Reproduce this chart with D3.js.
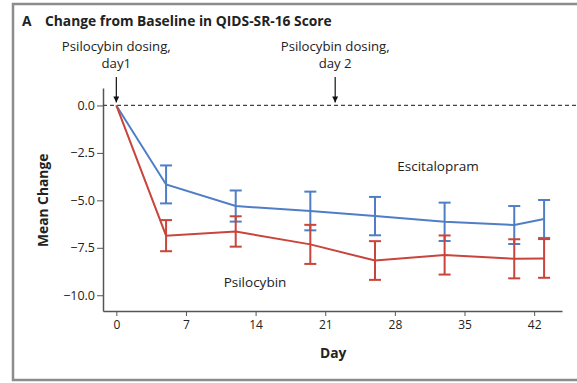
<!DOCTYPE html>
<html>
<head>
<meta charset="utf-8">
<script src="https://cdn.jsdelivr.net/npm/d3@7"></script>
<style>
  html, body { margin: 0; padding: 0; background: #fff; }
  svg { display: block; }
  text { font-family: "Open Sans", "Lato", sans-serif; fill: #222; }
</style>
</head>
<body>
<svg id="chart" width="577" height="383"></svg>
<script>
// Study visit days
const days = [0, 5, 12, 19.5, 26, 33, 40, 43];

// Escitalopram: mean change and error half-width
const escitalopramMean = [0, -4.16, -5.3, -5.56, -5.83, -6.13, -6.3, -5.98];
const escitalopramErr  = [0, 1.0, 0.82, 1.02, 1.01, 1.01, 1.0, 1.0];

// Psilocybin: mean change and error half-width
const psilocybinMean = [0, -6.86, -6.64, -7.32, -8.17, -7.88, -8.08, -8.06];
const psilocybinErr  = [0, 0.82, 0.8, 1.03, 1.02, 1.03, 1.03, 1.02];

const xTicks = [0, 7, 14, 21, 28, 35, 42];
const yTicks = [0, -2.5, -5, -7.5, -10];

const dosingNotes = [
  { day: 0, lines: ["Psilocybin dosing,", "day1"] },
  { day: 22, lines: ["Psilocybin dosing,", "day 2"] }
];

const seriesList = [
  { name: "Escitalopram", mean: escitalopramMean, err: escitalopramErr, color: "#4f7ec6" },
  { name: "Psilocybin", mean: psilocybinMean, err: psilocybinErr, color: "#c9443a" }
];

const svg = d3.select("#chart");

// Panel frame (left, top, bottom)
svg.append("path")
  .attr("d", "M577,4 H13 V380 H577")
  .attr("fill", "none")
  .attr("stroke", "#8c8c8c")
  .attr("stroke-width", 2.5);

// Panel title
const title = svg.append("text").attr("y", 26).attr("font-size", 13.8).attr("font-weight", 700);
title.append("tspan").attr("x", 22).text("A");
title.append("tspan").attr("x", 45).text("Change from Baseline in QIDS-SR-16 Score");

const x = d3.scaleLinear().domain([-1.34, 44.8]).range([103, 562]);
const y = d3.scaleLinear().domain([0.92, -10.83]).range([88, 311]);

// Axes
const xAxis = svg.append("g")
  .attr("transform", `translate(0,${y.range()[1]})`)
  .call(d3.axisBottom(x).tickValues(xTicks).tickSize(5).tickPadding(4).tickSizeOuter(0).tickFormat(d3.format("d")));
xAxis.selectAll("line").attr("stroke", "#555");
xAxis.select(".domain").attr("stroke", "#555").attr("stroke-width", 1.5);
xAxis.selectAll("text").attr("font-size", 12).attr("fill", "#333")
  .style("font-family", "'Open Sans', sans-serif");

const yAxis = svg.append("g")
  .attr("transform", `translate(${x.range()[0]},0)`)
  .call(d3.axisLeft(y).tickValues(yTicks).tickSize(6).tickSizeOuter(0).tickFormat(d => d3.format(".1f")(d).replace("-", "\u2212")));
yAxis.select(".domain").attr("stroke", "#555").attr("stroke-width", 1.5);
yAxis.selectAll("line").attr("stroke", "#555");
yAxis.selectAll("text").attr("font-size", 12.5).attr("x", -8).attr("fill", "#333")
  .style("font-family", "'Open Sans', sans-serif");

// Axis titles
svg.append("text")
  .attr("transform", `translate(48,${y(-5)}) rotate(-90)`)
  .attr("text-anchor", "middle")
  .attr("font-size", 13.8).attr("font-weight", 700)
  .text("Mean Change");
svg.append("text")
  .attr("x", x(21.8)).attr("y", 358)
  .attr("text-anchor", "middle")
  .attr("font-size", 13.8).attr("font-weight", 700)
  .text("Day");

// Baseline reference line
svg.append("line")
  .attr("x1", x.range()[0]).attr("x2", 577)
  .attr("y1", y(0)).attr("y2", y(0))
  .attr("stroke", "#444").attr("stroke-width", 1.2)
  .attr("stroke-dasharray", "4,3");

// Dosing annotations with arrows
svg.append("defs").append("marker")
  .attr("id", "arrowhead")
  .attr("viewBox", "0 0 10 10").attr("refX", 10).attr("refY", 5)
  .attr("markerWidth", 6).attr("markerHeight", 6)
  .attr("markerUnits", "userSpaceOnUse")
  .attr("orient", "auto")
  .append("path").attr("d", "M0,0 L10,5 L0,10 Z").attr("fill", "#111");

dosingNotes.forEach(note => {
  const cx = x(note.day);
  note.lines.forEach((s, i) => svg.append("text")
    .attr("text-anchor", "middle").attr("font-size", 13.2)
    .attr("x", cx).attr("y", 51 + i * 17).text(s));
  svg.append("line")
    .attr("x1", cx).attr("x2", cx)
    .attr("y1", 77).attr("y2", y(0) - 3)
    .attr("stroke", "#111").attr("stroke-width", 1.2)
    .attr("marker-end", "url(#arrowhead)");
});

// Series lines with error bars
const line = d3.line().x(d => x(d.day)).y(d => y(d.mean));
const capHalf = 6;

seriesList.forEach(s => {
  const pts = days.map((d, i) => ({ day: d, mean: s.mean[i], err: s.err[i] }));
  const g = svg.append("g");
  g.append("path").datum(pts)
    .attr("d", line)
    .attr("fill", "none")
    .attr("stroke", s.color)
    .attr("stroke-width", 2);
  const bars = pts.filter(p => p.err > 0);
  const eb = g.selectAll("g.eb").data(bars).join("g").attr("class", "eb")
    .attr("stroke", s.color).attr("stroke-width", 2);
  eb.append("line")
    .attr("x1", d => x(d.day)).attr("x2", d => x(d.day))
    .attr("y1", d => y(d.mean + d.err)).attr("y2", d => y(d.mean - d.err));
  eb.append("line")
    .attr("x1", d => x(d.day) - capHalf).attr("x2", d => x(d.day) + capHalf)
    .attr("y1", d => y(d.mean + d.err)).attr("y2", d => y(d.mean + d.err));
  eb.append("line")
    .attr("x1", d => x(d.day) - capHalf).attr("x2", d => x(d.day) + capHalf)
    .attr("y1", d => y(d.mean - d.err)).attr("y2", d => y(d.mean - d.err));
});

// Series labels
svg.append("text").attr("x", 438).attr("y", 171).attr("text-anchor", "middle")
  .attr("font-size", 13.5).text("Escitalopram");
svg.append("text").attr("x", 255).attr("y", 287).attr("text-anchor", "middle")
  .attr("font-size", 13.5).text("Psilocybin");
</script>
</body>
</html>
